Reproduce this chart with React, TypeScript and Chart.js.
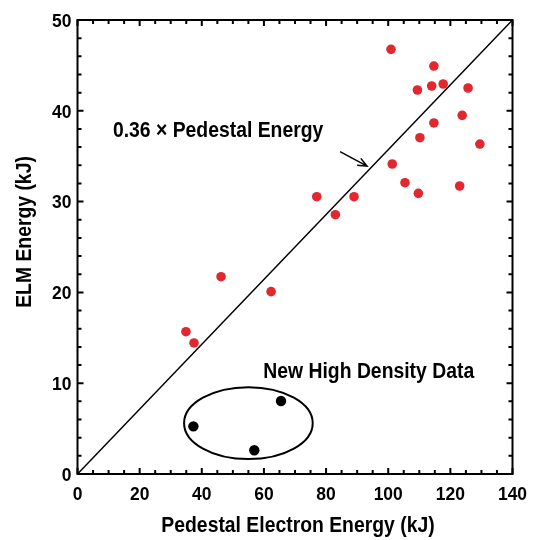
import React, { useEffect, useRef } from "react";
import { Chart, registerables } from "chart.js";

Chart.register(...registerables);

const FONT = '"Liberation Sans", Arial, sans-serif';
const CONDENSE = 0.88;
const TICK_CONDENSE = 0.92;

// Red points: pedestal electron energy (kJ) vs ELM energy (kJ)
const redX = [34.9, 37.5, 46.2, 62.3, 77.0, 83.0, 89.0, 100.9, 101.3, 105.4, 109.7, 109.4, 110.2, 114.0, 114.7, 114.7, 117.7, 123.0, 123.8, 125.7, 129.5];
const redY = [15.67, 14.43, 21.73, 20.08, 30.54, 28.56, 30.54, 46.77, 34.14, 32.08, 30.91, 42.29, 37.04, 42.73, 44.93, 38.66, 42.95, 31.72, 39.5, 42.51, 36.34];
// New high density data
const blackX = [37.3, 56.9, 65.5];
const blackY = [5.25, 2.61, 8.04];
// Reference line: 0.36 x pedestal energy, from origin to top-right corner
const lineX = [0, 140];
const lineY = [0, 50];
// Ellipse around new data (center x, center y, radius x, radius y) in data units
const ellipse = [55.0, 5.6, 20.7, 3.96];
// Annotations
const lineLabel = "0.36 × Pedestal Energy";
const lineLabelPos = [11.4, 37.1];
const arrowFrom = [84.5, 35.5];
const arrowTo = [93.2, 33.9];
const densityLabel = "New High Density Data";
const densityLabelPos = [59.8, 10.57];
const xTitle = "Pedestal Electron Energy (kJ)";
const yTitle = "ELM Energy (kJ)";
const xRange = [0, 140];
const yRange = [0, 50];
const xStep = 20;
const yStep = 10;

function condensedText(ctx: any, text: string, x: number, y: number, align: "left" | "center" | "right", k = CONDENSE) {
  ctx.save();
  ctx.translate(x, y);
  ctx.scale(k, 1);
  ctx.textAlign = align;
  ctx.textBaseline = "alphabetic";
  ctx.fillText(text, 0, 0);
  ctx.restore();
}

const overlay = {
  id: "overlay",
  afterDatasetsDraw(chart: any) {
    const ctx = chart.ctx;
    const xs = chart.scales.x;
    const ys = chart.scales.y;
    const a = chart.chartArea;
    ctx.save();
    ctx.strokeStyle = "#000";
    ctx.lineWidth = 2;
    // frame
    ctx.strokeRect(a.left, a.top, a.right - a.left, a.bottom - a.top);
    // x ticks (bottom & top)
    for (let v = xRange[0]; v <= xRange[1]; v += 5) {
      const px = xs.getPixelForValue(v);
      const len = v % 20 === 0 ? 6 : 4;
      ctx.beginPath();
      ctx.moveTo(px, a.bottom);
      ctx.lineTo(px, a.bottom - len);
      ctx.moveTo(px, a.top);
      ctx.lineTo(px, a.top + len);
      ctx.stroke();
    }
    for (let v = yRange[0]; v <= yRange[1]; v += 2) {
      const py = ys.getPixelForValue(v);
      const len = v % 10 === 0 ? 6 : 4;
      ctx.beginPath();
      ctx.moveTo(a.left, py);
      ctx.lineTo(a.left + len, py);
      ctx.moveTo(a.right, py);
      ctx.lineTo(a.right - len, py);
      ctx.stroke();
    }
    // ellipse
    ctx.lineWidth = 2;
    ctx.beginPath();
    const cx = xs.getPixelForValue(ellipse[0]);
    const cy = ys.getPixelForValue(ellipse[1]);
    const rx = Math.abs(xs.getPixelForValue(ellipse[0] + ellipse[2]) - cx);
    const ry = Math.abs(ys.getPixelForValue(ellipse[1] + ellipse[3]) - cy);
    ctx.ellipse(cx, cy, rx, ry, 0, 0, Math.PI * 2);
    ctx.stroke();
    // arrow
    const x1 = xs.getPixelForValue(arrowFrom[0]);
    const y1 = ys.getPixelForValue(arrowFrom[1]);
    const x2 = xs.getPixelForValue(arrowTo[0]);
    const y2 = ys.getPixelForValue(arrowTo[1]);
    ctx.lineWidth = 1.5;
    ctx.beginPath();
    ctx.moveTo(x1, y1);
    ctx.lineTo(x2, y2);
    const ang = Math.atan2(y2 - y1, x2 - x1);
    const h = 10;
    ctx.moveTo(x2 - h * Math.cos(ang - 0.4), y2 - h * Math.sin(ang - 0.4));
    ctx.lineTo(x2, y2);
    ctx.lineTo(x2 - h * Math.cos(ang + 0.4), y2 - h * Math.sin(ang + 0.4));
    ctx.stroke();

    ctx.fillStyle = "#000";
    // tick labels
    ctx.font = `bold 19px ${FONT}`;
    xs.ticks.forEach((t: any) => {
      condensedText(ctx, String(t.value), xs.getPixelForValue(t.value), a.bottom + 25.5, "center", TICK_CONDENSE);
    });
    ys.ticks.forEach((t: any) => {
      condensedText(ctx, String(t.value), a.left - 6, ys.getPixelForValue(t.value) + 6.8, "right", TICK_CONDENSE);
    });
    // labels
    ctx.font = `bold 22px ${FONT}`;
    condensedText(ctx, lineLabel, xs.getPixelForValue(lineLabelPos[0]), ys.getPixelForValue(lineLabelPos[1]), "left");
    condensedText(ctx, densityLabel, xs.getPixelForValue(densityLabelPos[0]), ys.getPixelForValue(densityLabelPos[1]), "left");
    // axis titles
    condensedText(ctx, xTitle, (a.left + a.right) / 2 + 3, 532, "center");
    ctx.save();
    ctx.translate(31, 232);
    ctx.rotate(-Math.PI / 2);
    condensedText(ctx, yTitle, 0, 0, "center");
    ctx.restore();
    ctx.restore();
  },
};

export default function App() {
  const ref = useRef<HTMLCanvasElement>(null);
  useEffect(() => {
    if (!ref.current) return;
    Chart.defaults.font.family = FONT;
    const chart = new Chart(ref.current, {
      type: "scatter",
      data: {
        datasets: [
          {
            type: "line",
            data: lineX.map((x, i) => ({ x, y: lineY[i] })),
            borderColor: "#000",
            borderWidth: 1.5,
            pointRadius: 0,
            fill: false,
          } as any,
          {
            data: redX.map((x, i) => ({ x, y: redY[i] })),
            backgroundColor: "#e0282e",
            borderWidth: 0,
            pointRadius: 4.8,
          },
          {
            data: blackX.map((x, i) => ({ x, y: blackY[i] })),
            backgroundColor: "#000",
            borderWidth: 0,
            pointRadius: 5.2,
          },
        ],
      },
      options: {
        animation: false,
        responsive: false,
        layout: { padding: { left: 0, right: 29.5, top: 20, bottom: 0 } },
        plugins: { legend: { display: false }, tooltip: { enabled: false } },
        scales: {
          x: {
            type: "linear",
            min: xRange[0],
            max: xRange[1],
            grid: { display: false, drawTicks: false },
            border: { display: false },
            ticks: { stepSize: xStep, display: false },
            afterFit: (s: any) => { s.height = 66; },
          },
          y: {
            type: "linear",
            min: yRange[0],
            max: yRange[1],
            grid: { display: false, drawTicks: false },
            border: { display: false },
            ticks: { stepSize: yStep, display: false },
            afterFit: (s: any) => { s.width = 77.5; },
          },
        },
      },
      plugins: [overlay],
    });
    return () => chart.destroy();
  }, []);
  return (
    <div style={{ position: "fixed", left: 0, top: 0, width: 542, height: 540, background: "#fff" }}>
      <canvas ref={ref} width={542} height={540} />
    </div>
  );
}
